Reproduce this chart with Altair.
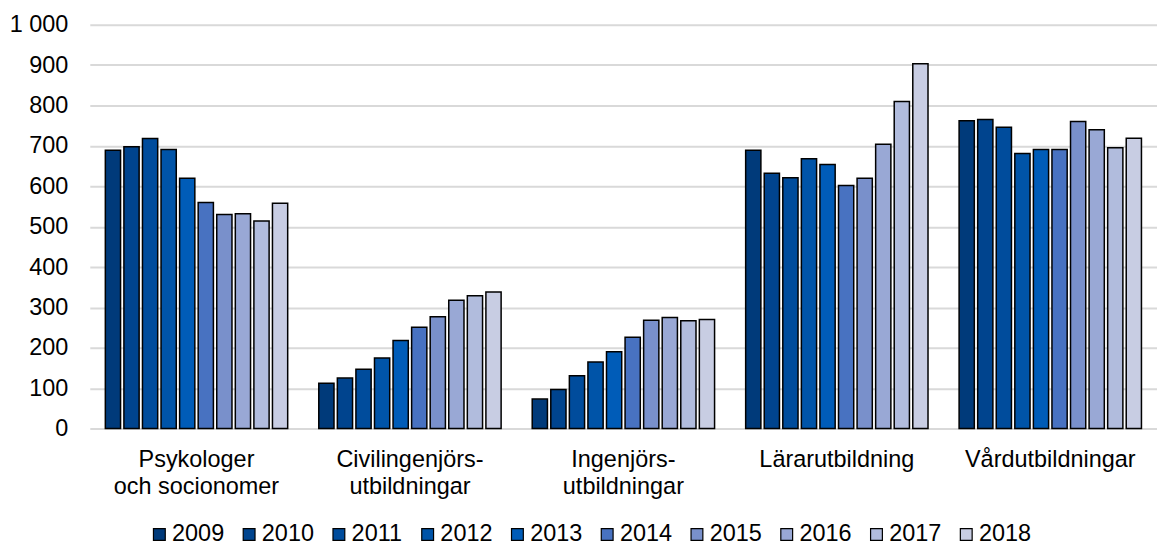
import altair as alt
import pandas as pd

categories = ["Psykologer\noch socionomer", "Civilingenjörs-\nutbildningar",
              "Ingenjörs-\nutbildningar", "Lärarutbildning", "Vårdutbildningar"]
years = ["2009", "2010", "2011", "2012", "2013", "2014", "2015", "2016", "2017", "2018"]

psykologer = [689, 698, 718, 691, 620, 560, 530, 532, 514, 558]
civilingenjor = [112, 125, 147, 175, 218, 251, 277, 318, 329, 338]
ingenjor = [73, 97, 131, 165, 190, 226, 268, 275, 267, 270]
larare = [689, 632, 621, 668, 654, 602, 620, 704, 810, 903]
vard = [762, 765, 746, 681, 691, 691, 760, 740, 695, 719]

colors = ["#003A7A", "#00448E", "#004C9C", "#0054A8", "#005CB8",
          "#4872C1", "#7990CB", "#99A8D5", "#B1BCDD", "#C8CDE3"]

series = [psykologer, civilingenjor, ingenjor, larare, vard]
rows = []
for cat, vals in zip(categories, series):
    for y, v in zip(years, vals):
        rows.append({"kategori": cat, "år": y, "värde": v})
df = pd.DataFrame(rows)

FONT = "Liberation Sans"
FS = 23.5

chart = alt.Chart(df).mark_bar(stroke="black", strokeWidth=1.5).encode(
    x=alt.X("kategori:N", sort=categories,
            scale=alt.Scale(paddingInner=0.13, paddingOuter=0.065),
            axis=alt.Axis(title=None, labelAngle=0, domain=False, ticks=False,
                          labelExpr="split(datum.label, '\\n')",
                          labelFont=FONT, labelFontSize=FS, labelColor="black",
                          labelPadding=19, labelLineHeight=27, labelBaseline="top")),
    xOffset=alt.XOffset("år:N", sort=years,
                        scale=alt.Scale(paddingInner=0.18, paddingOuter=0.09)),
    y=alt.Y("värde:Q", scale=alt.Scale(domain=[0, 1000], nice=False),
            axis=alt.Axis(title=None, values=list(range(0, 1001, 100)),
                          domain=False, ticks=False,
                          labelExpr="replace(format(datum.value, ','), ',', ' ')",
                          labelFont=FONT, labelFontSize=FS, labelColor="black",
                          labelPadding=22, gridColor="#D9D9D9", gridWidth=2)),
    color=alt.Color("år:N", sort=years,
                    scale=alt.Scale(domain=years, range=colors),
                    legend=alt.Legend(title=None, orient="none", direction="horizontal",
                                      columns=10, legendX=58, legendY=499,
                                      symbolType="square", symbolSize=140,
                                      symbolStrokeColor="black", symbolStrokeWidth=1.2,
                                      labelFont=FONT, labelFontSize=FS, labelColor="black",
                                      labelOffset=1, columnPadding=13)),
).properties(
    width=1070, height=405,
    autosize=alt.AutoSizeParams(type="none"),
    padding={"left": 82, "top": 16, "right": 0, "bottom": 117},
).configure_view(stroke=None)

chart.save("out.html", embed_options={"renderer": "svg", "actions": False})
